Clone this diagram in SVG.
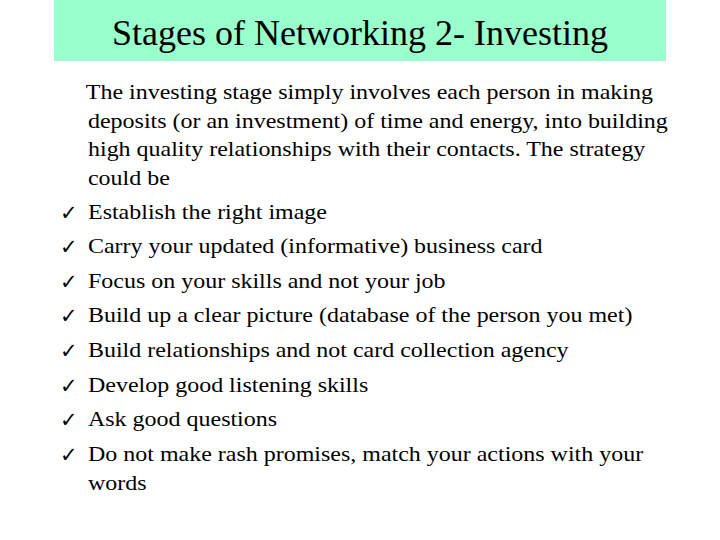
<svg xmlns="http://www.w3.org/2000/svg" width="720" height="540" viewBox="0 0 720 540">
<style>
text{font-family:"Liberation Serif","Times New Roman",serif;fill:#000}
.b{font-size:22px}
.c{font-family:"DejaVu Sans",sans-serif;font-size:21px}
</style>
<rect width="720" height="540" fill="#fff"/>
<g id="title">
<rect x="54" y="0" width="612" height="61" fill="#99FFCC"/>
<text x="360" y="45" font-size="36" text-anchor="middle">Stages of Networking 2- Investing</text>
</g>
<g id="body" transform="translate(88,0) scale(1.09,1) translate(-88,0)">
<text class="b" x="86" y="99">The investing stage simply involves each person in making</text>
<text class="b" x="88" y="128">deposits (or an investment) of time and energy, into building</text>
<text class="b" x="88" y="156">high quality relationships with their contacts. The strategy</text>
<text class="b" x="88" y="185">could be</text>
<text class="b" x="88" y="219">Establish the right image</text>
<text class="b" x="88" y="253">Carry your updated (informative) business card</text>
<text class="b" x="88" y="288">Focus on your skills and not your job</text>
<text class="b" x="88" y="322">Build up a clear picture (database of the person you met)</text>
<text class="b" x="88" y="357">Build relationships and not card collection agency</text>
<text class="b" x="88" y="392">Develop good listening skills</text>
<text class="b" x="88" y="426">Ask good questions</text>
<text class="b" x="88" y="461">Do not make rash promises, match your actions with your</text>
<text class="b" x="88" y="490">words</text>
</g>
<g id="checks">
<text class="c" x="60" y="220">✓</text>
<text class="c" x="60" y="254">✓</text>
<text class="c" x="60" y="289">✓</text>
<text class="c" x="60" y="323">✓</text>
<text class="c" x="60" y="358">✓</text>
<text class="c" x="60" y="393">✓</text>
<text class="c" x="60" y="427">✓</text>
<text class="c" x="60" y="462">✓</text>
</g>
</svg>
